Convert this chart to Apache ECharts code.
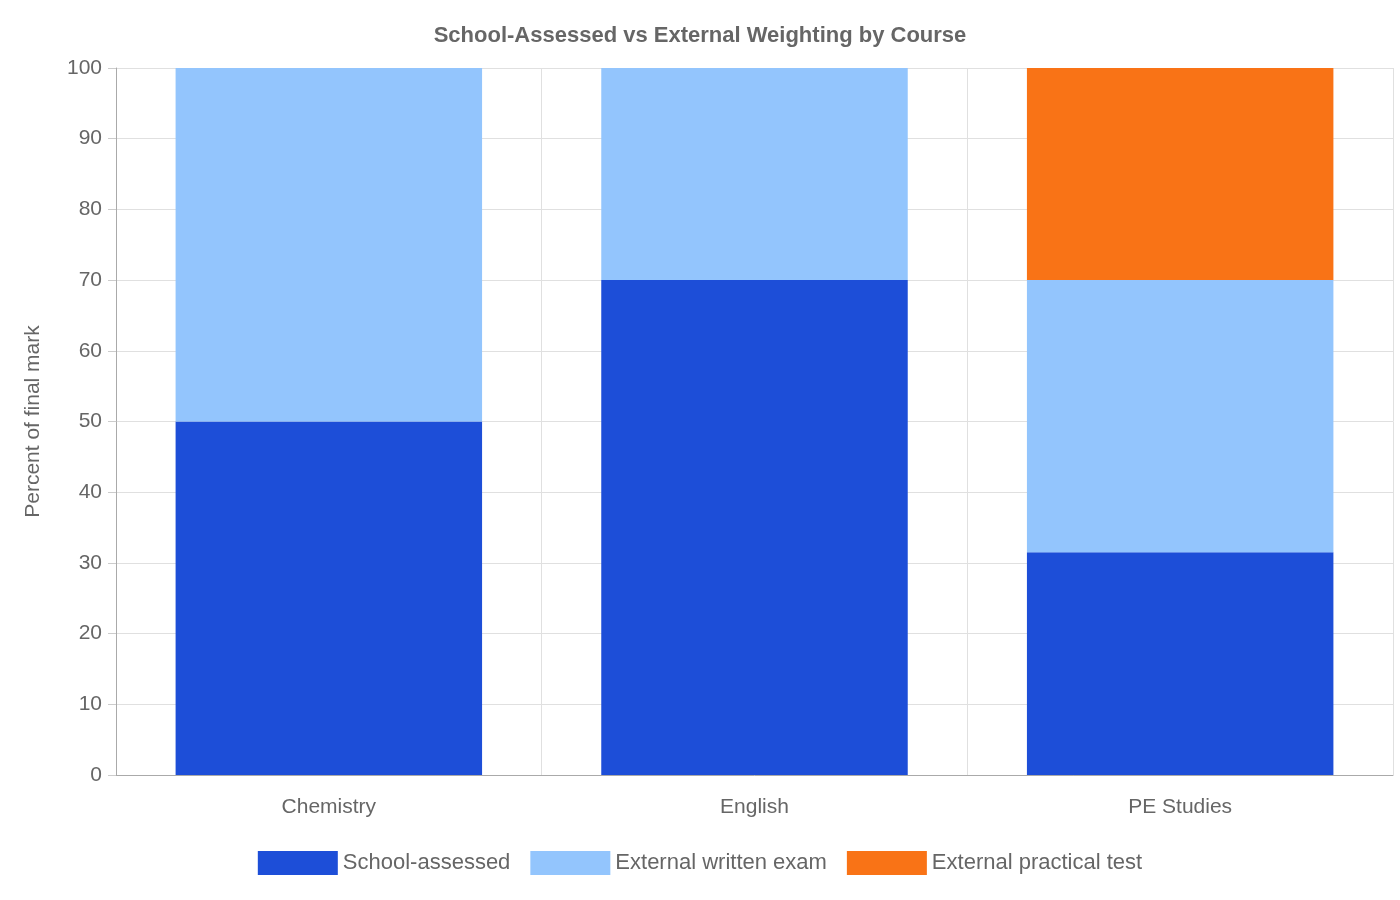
<!DOCTYPE html>
<html><head><meta charset="utf-8">
<script src="https://cdn.jsdelivr.net/npm/echarts@6/dist/echarts.min.js"></script>
<style>html,body{margin:0;padding:0;background:#fff}#c{width:1400px;height:900px}</style>
</head><body><div id="c"></div>
<script>
const categories = ["Chemistry", "English", "PE Studies"];
const schoolAssessed = [50, 70, 31.5];
const externalWritten = [50, 30, 38.5];
const externalPractical = [0, 0, 30];
const yTicks = [0, 100, 10];

const chart = echarts.init(document.getElementById('c'));
const font = "'Liberation Sans', Arial, sans-serif";
chart.setOption({
  textStyle: {fontFamily: font},
  title: {text: "School-Assessed vs External Weighting by Course", left: 'center', top: 20,
    textStyle: {fontSize: 22, fontWeight: 'bold', color: '#666', fontFamily: font}},
  grid: {left: 116, right: 7, top: 68, bottom: 125},
  legend: {bottom: 20, itemWidth: 80, itemHeight: 24, itemGap: 20, icon: 'rect',
    textStyle: {fontSize: 22, color: '#666', fontFamily: font}},
  xAxis: {type: 'category', data: categories,
    axisLine: {lineStyle: {color: '#aaa'}},
    axisTick: {length: 20, lineStyle: {color: '#ccc'}},
    splitLine: {show: true, lineStyle: {color: '#e0e0e0'}},
    axisLabel: {fontSize: 21, color: '#666', margin: 22}},
  yAxis: {type: 'value', min: yTicks[0], max: yTicks[1], interval: yTicks[2],
    name: 'Percent of final mark', nameLocation: 'middle', nameGap: 72,
    nameTextStyle: {fontSize: 21, color: '#666'},
    axisLine: {show: true, lineStyle: {color: '#aaa'}},
    axisTick: {show: true, length: 8, lineStyle: {color: '#ccc'}},
    splitLine: {lineStyle: {color: '#e0e0e0'}},
    axisLabel: {fontSize: 21, color: '#666', margin: 14}},
  series: [
    {name: 'School-assessed', type: 'bar', stack: 's', data: schoolAssessed, barWidth: '72%', itemStyle: {color: '#1d4ed8'}},
    {name: 'External written exam', type: 'bar', stack: 's', data: externalWritten, itemStyle: {color: '#93c5fd'}},
    {name: 'External practical test', type: 'bar', stack: 's', data: externalPractical, itemStyle: {color: '#f97316'}}
  ]
});
</script></body></html>
